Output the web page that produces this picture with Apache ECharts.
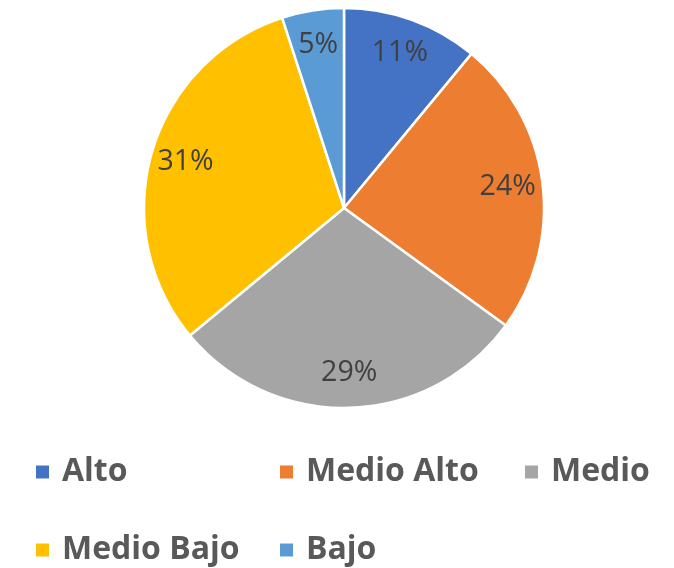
<!DOCTYPE html>
<html>
<head>
<meta charset="utf-8">
<script src="https://cdn.jsdelivr.net/npm/echarts@6/dist/echarts.min.js"></script>
<style>
  html, body { margin: 0; padding: 0; background: #ffffff; }
  #chart { width: 674px; height: 568px; }
</style>
</head>
<body>
<div id="chart"></div>
<script>
// Distribution by level (percent)
const categories = ['Alto', 'Medio Alto', 'Medio', 'Medio Bajo', 'Bajo'];
const values = [11, 24, 29, 31, 5];
const colors = ['#4472C4', '#ED7D31', '#A5A5A5', '#FFC000', '#5B9BD5'];

const chart = echarts.init(document.getElementById('chart'), null, { renderer: 'canvas' });

const center = [344, 208];
const radius = 200;
const fontFamily = '"Open Sans", "Liberation Sans", sans-serif';

const pieData = categories.map((name, i) => ({
  name,
  value: values[i],
  itemStyle: { color: colors[i] }
}));

// Legend grid: three columns on the first row, two on the second
const legendPos = [
  [34, 456], [278, 456], [523, 456],
  [34, 534], [278, 534]
];
const legends = categories.map((name, i) => ({
  data: [name],
  left: legendPos[i][0],
  top: legendPos[i][1],
  icon: 'rect',
  itemWidth: 15,
  itemHeight: 15,
  itemGap: 0,
  padding: 0,
  selectedMode: false,
  textStyle: {
    fontFamily,
    fontWeight: 'bold',
    fontSize: 32,
    color: '#595959',
    padding: [0, 0, 0, 7]
  }
}));

chart.setOption({
  animation: false,
  backgroundColor: '#ffffff',
  legend: legends,
  series: [
    {
      type: 'pie',
      center,
      radius: [0, radius],
      startAngle: 90,
      clockwise: true,
      silent: true,
      data: pieData,
      itemStyle: { borderColor: '#ffffff', borderWidth: 2.5 },
      label: { show: false },
      labelLine: { show: false }
    },
    {
      // Transparent twin pie that positions the percentage labels at ~80% of the radius
      type: 'pie',
      center,
      radius: [0, radius * 1.62],
      startAngle: 90,
      clockwise: true,
      silent: true,
      z: 3,
      data: categories.map((name, i) => ({
        name,
        value: values[i],
        itemStyle: { color: 'rgba(0,0,0,0)' }
      })),
      itemStyle: { borderWidth: 0 },
      label: {
        show: true,
        position: 'inside',
        formatter: p => p.value + '%',
        fontFamily,
        fontSize: 28.5,
        color: '#404040'
      },
      labelLine: { show: false }
    }
  ]
});
</script>
</body>
</html>
